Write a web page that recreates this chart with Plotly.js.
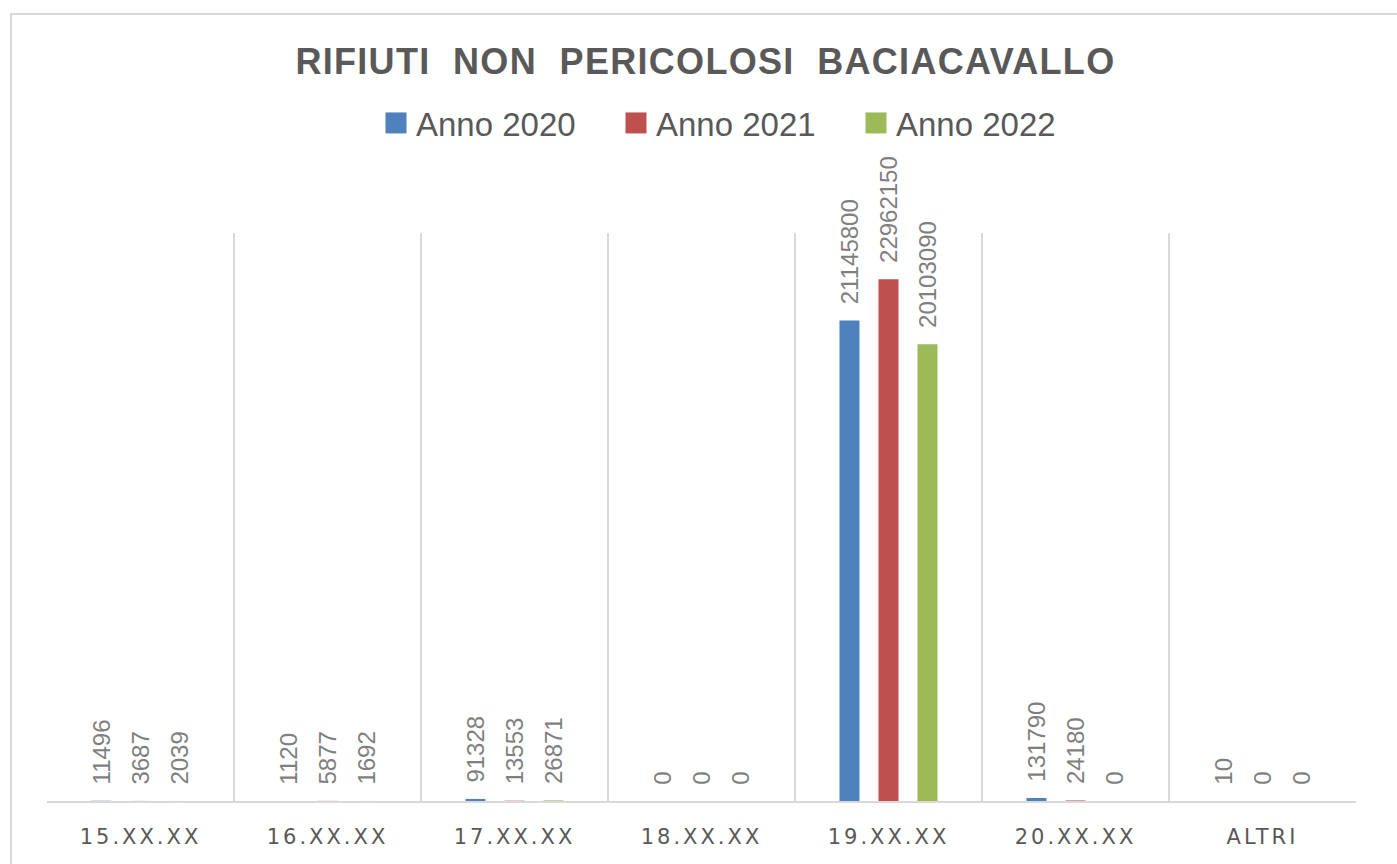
<!DOCTYPE html>
<html>
<head>
<meta charset="utf-8">
<script src="https://cdn.plot.ly/plotly-3.0.1.min.js"></script>
<style>
  html, body { margin: 0; padding: 0; background: #ffffff; }
  #frame { position: absolute; left: 10px; top: 13px; width: 1400px; height: 870px; border: 2px solid #d9d9d9; box-sizing: border-box; }
  #chart { position: absolute; left: 0; top: 0; width: 1397px; height: 864px; }
  .xtick text { letter-spacing: 3px; }
  .gtitle { letter-spacing: 1.3px; }
  .legend .legendpoints path { transform: translate(20px, 0px) scale(1.75); }
</style>
</head>
<body>
<div id="frame"></div>
<div id="chart"></div>
<script>
const categories = ["15.XX.XX", "16.XX.XX", "17.XX.XX", "18.XX.XX", "19.XX.XX", "20.XX.XX", "ALTRI"];
const anno2020 = [11496, 1120, 91328, 0, 21145800, 131790, 10];
const anno2021 = [3687, 5877, 13553, 0, 22962150, 24180, 0];
const anno2022 = [2039, 1692, 26871, 0, 20103090, 0, 0];
const seriesNames = ["Anno 2020", "Anno 2021", "Anno 2022"];
const seriesColors = ["#4f81bd", "#c0504d", "#9bbb59"];
const chartTitle = "RIFIUTI\u00a0 NON\u00a0 PERICOLOSI\u00a0 BACIACAVALLO";

const seriesValues = [anno2020, anno2021, anno2022];
const traces = seriesValues.map((vals, i) => ({
  type: "bar",
  name: seriesNames[i],
  x: categories,
  y: vals,
  marker: { color: seriesColors[i] },
  texttemplate: "\u00a0\u00a0%{y:d}",
  textposition: "outside",
  textangle: -90,
  constraintext: "none",
  cliponaxis: false,
  textfont: { family: "Liberation Sans", size: 24, color: "#7f7f7f" },
  hoverinfo: "x+y+name"
}));

const layout = {
  width: 1397,
  height: 864,
  margin: { l: 47, r: 41, t: 233, b: 63 },
  paper_bgcolor: "rgba(0,0,0,0)",
  plot_bgcolor: "rgba(0,0,0,0)",
  barmode: "group",
  bargap: 0.374,
  bargroupgap: 0.487,
  title: {
    text: chartTitle,
    x: 0.503, xref: "paper", xanchor: "center",
    y: 1 - 61 / 864, yref: "container", yanchor: "middle",
    font: { family: "Liberation Sans", size: 36, weight: "bold", color: "#595959" }
  },
  showlegend: true,
  legend: {
    orientation: "h",
    x: (376 - 47) / 1309, xanchor: "left",
    y: (801 - 123) / 568, yanchor: "middle",
    entrywidth: 195,
    entrywidthmode: "pixels",
    font: { family: "Liberation Sans", size: 33, color: "#595959" },
    itemclick: false
  },
  xaxis: {
    type: "category",
    tickson: "boundaries",
    showgrid: true,
    gridcolor: "#d9d9d9",
    gridwidth: 2,
    showline: true,
    linecolor: "#d9d9d9",
    linewidth: 2,
    ticks: "",
    ticklabelstandoff: 16,
    tickfont: { family: "DejaVu Sans", size: 21, color: "#595959" },
    fixedrange: true
  },
  yaxis: {
    range: [0, 25000000],
    visible: false,
    showgrid: false,
    zeroline: false,
    fixedrange: true
  }
};

Plotly.newPlot("chart", traces, layout, { displayModeBar: false, staticPlot: true });
</script>
</body>
</html>
